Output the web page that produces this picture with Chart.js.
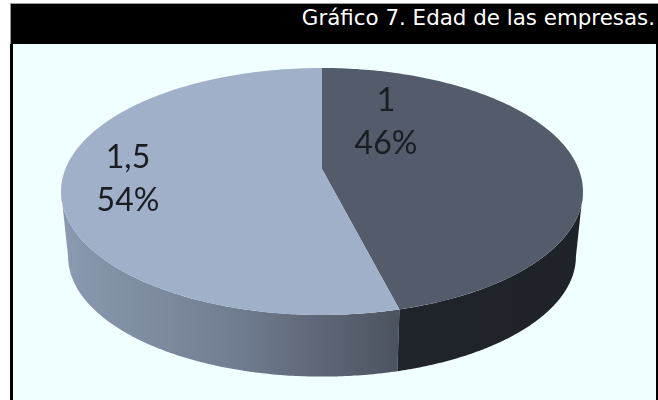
<!DOCTYPE html>
<html>
<head>
<meta charset="utf-8">
<script src="https://cdn.jsdelivr.net/npm/chart.js@4/dist/chart.umd.js"></script>
<style>
    html, body { margin: 0; padding: 0; background: #fff; }
    #page { position: relative; width: 658px; height: 400px; overflow: hidden; }
    #header { position: absolute; left: 10px; top: 3px; width: 648px; height: 41px; background: #000; box-sizing: border-box; border-top: 1px solid #999; border-left: 1px solid #999; }
    #header span { position: absolute; right: 3px; top: 1px; color: #fff; font: 21.4px "DejaVu Sans"; white-space: nowrap; }
    #frame { position: absolute; left: 10px; top: 44px; width: 648px; height: 356px; background: #000; }
    #plot { position: absolute; left: 13px; top: 44px; background: #f0ffff; }
</style>
</head>
<body>
<div id="page">
    <div id="header"><span>Gráfico 7. Edad de las empresas.</span></div>
    <div id="frame"></div>
    <canvas id="plot" width="643" height="356"></canvas>
</div>
<script>
const categories = ['1', '1,5'];
const percentValues = [46, 54];

const topColors = ['#545c6b', '#a0b0c9'];

// perspective of the disc: unit circle -> screen
const TILT = -0.182;
const RX = 256.6 / 125;
const RY = 119.4 / 125;
const WALL_SCALE = 0.973;
const WALL_DROP = 65.6;

// angles where the disc is widest, the wall only shows between them
const WALL_FROM = Math.asin(-TILT);
const WALL_TO = Math.PI - WALL_FROM;

function project(arc, angle, scale, drop) {
    const u = Math.cos(angle), v = Math.sin(angle);
    const w = 1 + TILT * v;
    const r = arc.outerRadius;
    return [arc.x + scale * RX * r * u / w, arc.y + drop + scale * RY * r * v / w];
}

function traceEdge(ctx, arc, from, to, scale, drop) {
    const steps = 160;
    for (let i = 0; i <= steps; i++) {
        const p = project(arc, from + (to - from) * i / steps, scale, drop);
        ctx.lineTo(p[0], p[1]);
    }
}

class Arc3D extends Chart.ArcElement {
    draw(ctx) {
        ctx.beginPath();
        ctx.moveTo(this.x, this.y);
        traceEdge(ctx, this, this.startAngle, this.endAngle, 1, 0);
        ctx.closePath();
        ctx.fillStyle = this.options.backgroundColor;
        ctx.fill();
    }

    drawWall(ctx, fill) {
        const from = Math.max(this.startAngle, WALL_FROM);
        const to = Math.min(this.endAngle, WALL_TO);
        ctx.beginPath();
        traceEdge(ctx, this, from, to, 1, 0);
        traceEdge(ctx, this, to, from, WALL_SCALE, WALL_DROP);
        ctx.closePath();
        ctx.fillStyle = fill;
        ctx.fill();
    }
}
Arc3D.id = 'arc3d';

class Pie3D extends Chart.DoughnutController {
    draw() {
        const ctx = this.chart.ctx;
        const arcs = this._cachedMeta.data;

        const dark = ctx.createLinearGradient(380, 0, 580, 0);
        dark.addColorStop(0, '#20242b');
        dark.addColorStop(1, '#1f2329');

        const light = ctx.createLinearGradient(48, 0, 386, 0);
        light.addColorStop(0, '#8b9ab1');
        light.addColorStop(0.5, '#727e92');
        light.addColorStop(1, '#4c535f');

        arcs[1].drawWall(ctx, light);
        arcs[0].drawWall(ctx, dark);
        super.draw();
    }
}
Pie3D.id = 'pie3d';
Pie3D.defaults = Chart.DoughnutController.defaults;
Pie3D.overrides = Chart.DoughnutController.overrides;
Pie3D.defaults.dataElementType = 'arc3d';

Chart.register(Arc3D, Pie3D);

const labelSpots = [[373, 78], [115, 135.5]];

const sliceLabels = {
    id: 'sliceLabels',
    afterDatasetsDraw(chart) {
        const ctx = chart.ctx;
        ctx.save();
        ctx.font = '32px Lato';
        ctx.fillStyle = '#1a1d22';
        ctx.textAlign = 'center';
        ctx.textBaseline = 'middle';
        categories.forEach((name, i) => {
            ctx.fillText(name, labelSpots[i][0], labelSpots[i][1] - 21.5);
            ctx.fillText(percentValues[i] + '%', labelSpots[i][0], labelSpots[i][1] + 21.5);
        });
        ctx.restore();
    }
};

new Chart(document.getElementById('plot'), {
    type: 'pie3d',
    data: {
        labels: categories,
        datasets: [{
            data: percentValues,
            backgroundColor: topColors,
            borderWidth: 0
        }]
    },
    options: {
        responsive: false,
        animation: false,
        radius: 125,
        layout: { padding: { left: 0, right: 25, top: 0, bottom: 106 } },
        plugins: {
            legend: { display: false },
            tooltip: { enabled: false }
        }
    },
    plugins: [sliceLabels]
});
</script>
</body>
</html>
